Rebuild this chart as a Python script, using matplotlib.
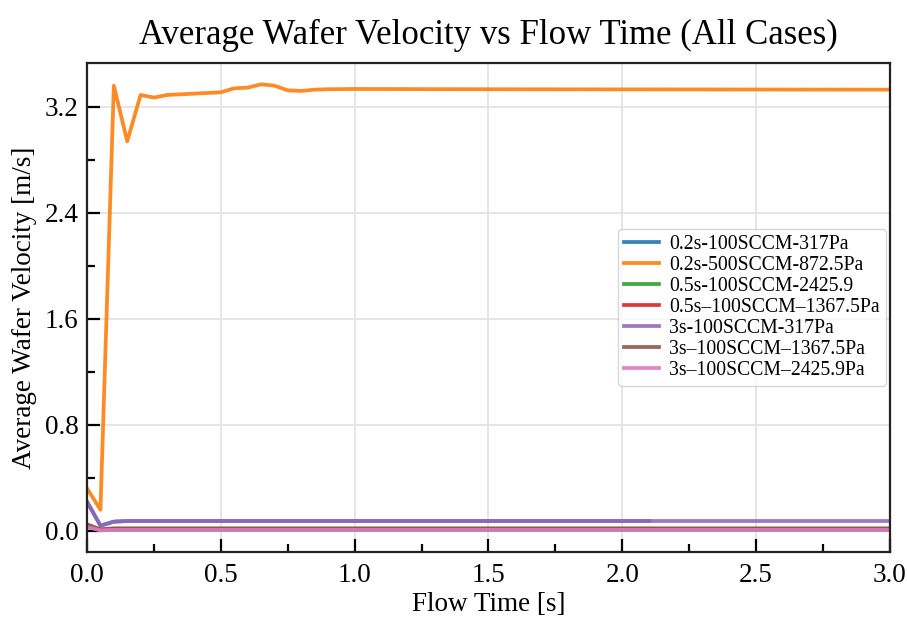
import matplotlib.pyplot as plt
from matplotlib.ticker import MultipleLocator

plt.rcParams['font.family'] = ['Liberation Serif', 'DejaVu Serif']

# Flow time samples (s)
t_start = [0.0, 0.05, 0.10, 0.15, 0.20, 0.25, 0.30, 0.35, 0.40, 0.45, 0.50,
           0.55, 0.60, 0.65, 0.70, 0.75, 0.80, 0.85, 0.90, 1.0, 1.5, 2.0,
           2.1, 2.5, 3.0]

# Average wafer velocity (m/s)
v_02_100_317 = [0.22, 0.04, 0.07, 0.075, 0.075, 0.075, 0.075, 0.075, 0.075,
                0.075, 0.075, 0.075, 0.075, 0.075, 0.075, 0.075, 0.075,
                0.075, 0.075, 0.075, 0.075, 0.075, 0.075]
v_02_500_8725 = [0.32, 0.16, 3.36, 2.94, 3.29, 3.27, 3.29, 3.295, 3.30,
                 3.305, 3.31, 3.34, 3.345, 3.37, 3.36, 3.325, 3.32, 3.33,
                 3.333, 3.335, 3.333, 3.332, 3.332, 3.331, 3.33]
v_05_100_24259 = [0.03, 0.005, 0.008, 0.008, 0.008, 0.008, 0.008, 0.008,
                  0.008, 0.008, 0.008, 0.008, 0.008, 0.008, 0.008, 0.008,
                  0.008, 0.008, 0.008, 0.008, 0.008, 0.008, 0.008, 0.008,
                  0.008]
v_05_100_13675 = [0.04, 0.01, 0.015, 0.015, 0.015, 0.015, 0.015, 0.015,
                  0.015, 0.015, 0.015, 0.015, 0.015, 0.015, 0.015, 0.015,
                  0.015, 0.015, 0.015, 0.015, 0.015, 0.015, 0.015, 0.015,
                  0.015]
v_3_100_317 = [0.22, 0.04, 0.07, 0.075, 0.075, 0.075, 0.075, 0.075, 0.075,
               0.075, 0.075, 0.075, 0.075, 0.075, 0.075, 0.075, 0.075,
               0.075, 0.075, 0.075, 0.075, 0.075, 0.075, 0.075, 0.075]
v_3_100_13675 = [0.05, 0.012, 0.02, 0.02, 0.02, 0.02, 0.02, 0.02, 0.02,
                 0.02, 0.02, 0.02, 0.02, 0.02, 0.02, 0.02, 0.02, 0.02, 0.02,
                 0.02, 0.02, 0.02, 0.02, 0.02, 0.02]
v_3_100_24259 = [0.03, 0.005, 0.008, 0.008, 0.008, 0.008, 0.008, 0.008,
                 0.008, 0.008, 0.008, 0.008, 0.008, 0.008, 0.008, 0.008,
                 0.008, 0.008, 0.008, 0.008, 0.008, 0.008, 0.008, 0.008,
                 0.008]

series = [
    ('0.2s-100SCCM-317Pa', v_02_100_317, '#1f77b4'),
    ('0.2s-500SCCM-872.5Pa', v_02_500_8725, '#ff7f0e'),
    ('0.5s-100SCCM-2425.9', v_05_100_24259, '#2ca02c'),
    ('0.5s\u2013100SCCM\u20131367.5Pa', v_05_100_13675, '#d62728'),
    ('3s-100SCCM-317Pa', v_3_100_317, '#9467bd'),
    ('3s\u2013100SCCM\u20131367.5Pa', v_3_100_13675, '#8c564b'),
    ('3s\u2013100SCCM\u20132425.9Pa', v_3_100_24259, '#e377c2'),
]

fig, ax = plt.subplots(figsize=(9.07, 6.19), dpi=100)

for label, vals, col in series:
    ax.plot(t_start[:len(vals)], vals, color=col, lw=2.7, alpha=0.9,
            label=label)

ax.set_xlim(0, 3.0)
ax.set_ylim(-0.16, 3.53)
ax.xaxis.set_major_locator(MultipleLocator(0.5))
ax.xaxis.set_minor_locator(MultipleLocator(0.25))
ax.yaxis.set_major_locator(MultipleLocator(0.8))
ax.yaxis.set_minor_locator(MultipleLocator(0.4))
ax.tick_params(which='both', direction='in', labelsize=19.5, width=1.6)
ax.tick_params(which='major', length=9.5)
ax.tick_params(which='minor', length=6)
ax.tick_params(axis='x', pad=8)
ax.tick_params(axis='y', pad=6)
for s in ax.spines.values():
    s.set_linewidth(1.6)
    s.set_color('#222222')
ax.grid(color='#e3e3e3', lw=1.3)

ax.set_xlabel('Flow Time [s]', fontsize=19.5, labelpad=3)
ax.set_ylabel('Average Wafer Velocity [m/s]', fontsize=19.5, labelpad=6)
ax.set_title('Average Wafer Velocity vs Flow Time (All Cases)', fontsize=25,
             pad=14)
ax.legend(loc='center right', fontsize=14.2, handlelength=1.8,
          labelspacing=0.1, borderpad=0.3, handletextpad=0.5,
          borderaxespad=0.2)

fig.subplots_adjust(left=0.096, right=0.981, top=0.898, bottom=0.108)
fig.savefig('out.png', dpi=100)
